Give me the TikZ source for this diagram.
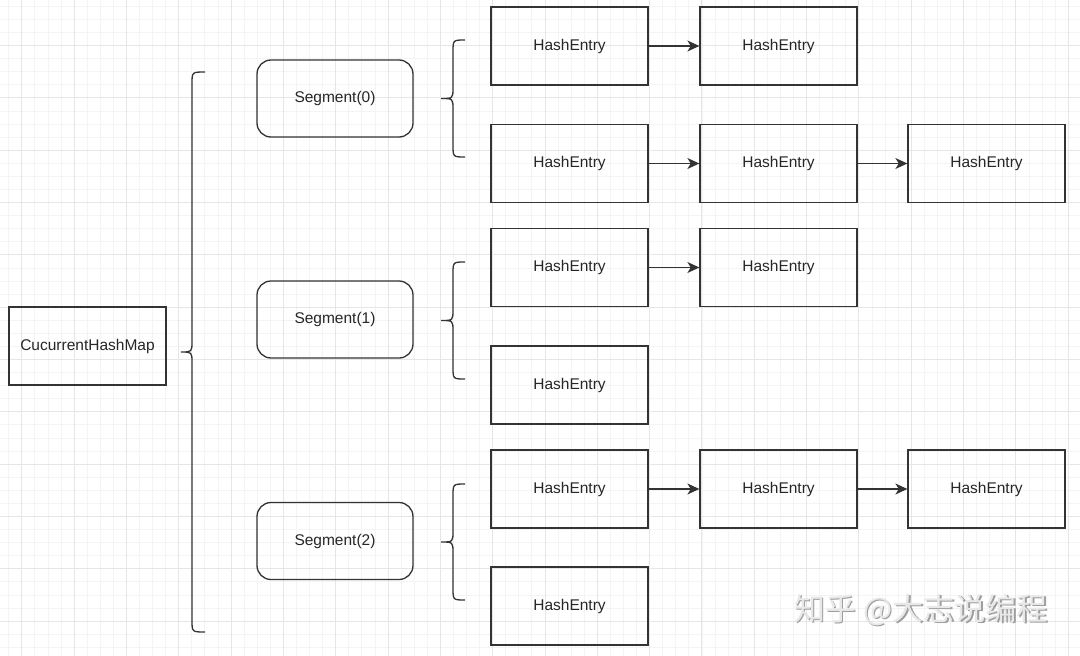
\documentclass[tikz,border=0pt]{standalone}
\usepackage{fontspec}
\setmainfont{Liberation Sans}
\newfontfamily\cjk{Noto Sans CJK SC}
\usetikzlibrary{arrows.meta}
\definecolor{ink}{HTML}{333333}
\definecolor{gmin}{HTML}{F4F4F4}
\definecolor{gmaj}{HTML}{E6E6E6}
\newcommand\crly[6]{% xend, xv, xtip, ytop, ybot, ymid
  \draw[ln] (#1,#4) .. controls (#2,#4) .. (#2,{#4+12}) -- (#2,{#6-11})
    .. controls (#2,#6) .. (#3,#6) .. controls (#2,#6) .. (#2,{#6+11})
    -- (#2,{#5-12}) .. controls (#2,#5) .. (#1,#5);}
\begin{document}
\begin{tikzpicture}[x=1pt,y=-1pt,
  ln/.style={draw=ink,line width=1.3pt},
  entry/.style={ln,rectangle,minimum width=157pt,minimum height=78pt,inner sep=0pt,
    font=\fontsize{15.5}{18}\selectfont,text=black!85},
  seg/.style={entry,rounded corners=14pt,minimum width=156pt,minimum height=77pt},
  arr/.style={ln,-{Stealth[length=12pt,width=11pt,inset=3.5pt]}}]
\useasboundingbox (0,0) rectangle (1080,656);
\fill[white] (0,0) rectangle (1080,656);
% grid
\foreach \k in {0,...,82} \draw[gmin,line width=0.7pt] ({8.62+\k*13.08},0) -- ({8.62+\k*13.08},656);
\foreach \k in {0,...,49} \draw[gmin,line width=0.7pt] (0,{6.26+\k*13.08}) -- (1080,{6.26+\k*13.08});
\foreach \k in {0,...,20} \draw[gmaj,line width=0.8pt] ({21.7+\k*52.32},0) -- ({21.7+\k*52.32},656);
\foreach \k in {0,...,11} \draw[gmaj,line width=0.8pt] (0,{45.5+\k*52.32}) -- (1080,{45.5+\k*52.32});
% main nodes
\node[entry] (map) at (87.5,346) {CucurrentHashMap};
\node[seg] (s0) at (335,98.5) {Segment(0)};
\node[seg] (s1) at (335,319.5) {Segment(1)};
\node[seg] (s2) at (335,541) {Segment(2)};
% braces
\crly{205}{192}{181}{72}{632}{352}
\crly{465}{453}{441}{40}{157}{98.5}
\crly{465}{453}{441}{262}{379}{320.5}
\crly{465}{453}{441}{484}{600}{542}
% entries
\node[entry] (e11) at (569.5,46) {HashEntry};
\node[entry] (e12) at (778.5,46) {HashEntry};
\node[entry] (e21) at (569.5,163.5) {HashEntry};
\node[entry] (e22) at (778.5,163.5) {HashEntry};
\node[entry] (e23) at (986.5,163.5) {HashEntry};
\node[entry] (e31) at (569.5,267.5) {HashEntry};
\node[entry] (e32) at (778.5,267.5) {HashEntry};
\node[entry] (e41) at (569.5,385) {HashEntry};
\node[entry] (e51) at (569.5,489) {HashEntry};
\node[entry] (e52) at (778.5,489) {HashEntry};
\node[entry] (e53) at (986.5,489) {HashEntry};
\node[entry] (e61) at (569.5,606) {HashEntry};
% arrows
\draw[arr] (e11) -- (e12);
\draw[arr] (e21) -- (e22);
\draw[arr] (e22) -- (e23);
\draw[arr] (e31) -- (e32);
\draw[arr] (e51) -- (e52);
\draw[arr] (e52) -- (e53);
% watermark
\node[text=black!38,font=\cjk\fontsize{31}{34}\selectfont] (wms) at (922.5,611.5) {知乎 @大志说编程};
\node[text=black!9,font=\cjk\fontsize{31}{34}\selectfont] (wm) at (921,610) {知乎 @大志说编程};
\end{tikzpicture}
\end{document}
